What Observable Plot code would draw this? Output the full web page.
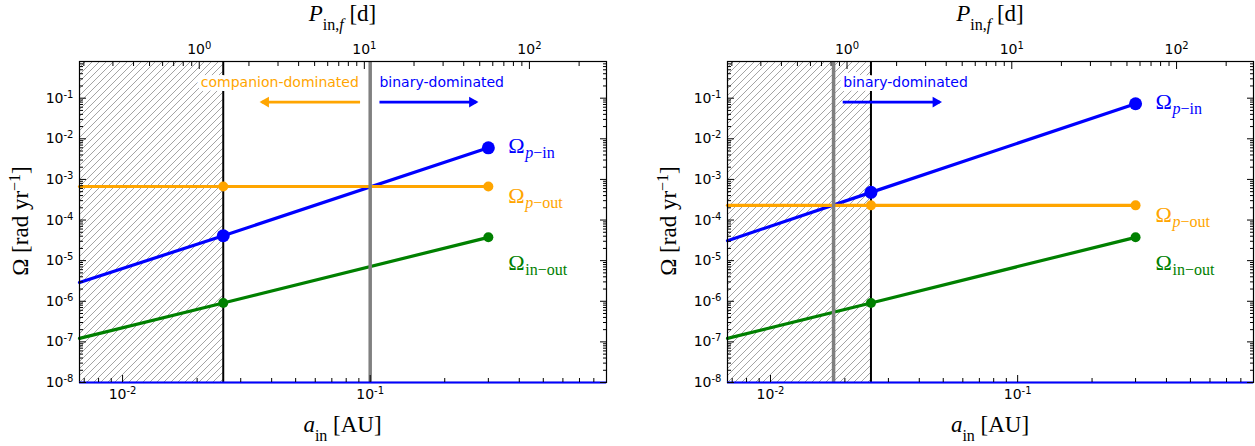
<!DOCTYPE html>
<html><head><meta charset="utf-8">
<script src="https://cdn.jsdelivr.net/npm/d3@7"></script>
<script src="https://cdn.jsdelivr.net/npm/@observablehq/plot@0.6"></script>
<style>
body{margin:0;background:#fff;}
#wrap{display:flex;width:1255px;height:446px;overflow:hidden;}
</style></head><body><div id="wrap"></div>
<script>
// ---------- data ----------
const aPoints   = [0.0067, 0.0255, 0.3];          // a_in [AU]
const leftPIn   = [2.9e-6, 4.1e-5, 6.0e-3];
const leftPOut  = [6.7e-4, 6.7e-4, 6.7e-4];
const leftInOut = [1.22e-7, 9.1e-7, 3.75e-5];
const rightPIn  = [3.1e-5, 4.8e-4, 7.3e-2];
const rightPOut = [2.3e-4, 2.3e-4, 2.3e-4];
const rightInOut= [1.22e-7, 9.1e-7, 3.75e-5];
const stabilityLimit = 0.0255;     // black line / hatched edge
const leftTransition = 0.1;        // grey line
const rightTransition = 0.018;
const xDomain = [0.0067, 0.9];
const yDomain = [1e-8, 0.8];
const xMajor = [0.01, 0.1];
const xMinor = [0.007,0.008,0.009,0.02,0.03,0.04,0.05,0.06,0.07,0.08,0.09,0.2,0.3,0.4,0.5,0.6,0.7,0.8,0.9];
const yMajor = [1e-8,1e-7,1e-6,1e-5,1e-4,1e-3,1e-2,1e-1];
const yMinorMult = [2,3,4,5,6,7,8,9];
const pMajor = [1, 10, 100];
const pMinor = [0.2,0.3,0.4,0.5,0.6,0.7,0.8,0.9,2,3,4,5,6,7,8,9,20,30,40,50,60,70,80,90,200];
const aAtOneDay = 0.0204;          // a_in [AU] for P_in,f = 1 d
const leftNotes  = [{text:"companion-dominated", a:0.09, y:0.25, anchor:"end", color:"#ffa500"},
                    {text:"binary-dominated", a:0.109, y:0.25, anchor:"start", color:"#0000ff"}];
const leftArrows = [{a1:0.091, a2:0.0365, y:0.08, color:"#ffa500", dir:-1},
                    {a1:0.109, a2:0.268, y:0.08, color:"#0000ff", dir:1}];
const rightNotes = [{text:"binary-dominated", a:0.0197, y:0.25, anchor:"start", color:"#0000ff"}];
const rightArrows= [{a1:0.0196, a2:0.0484, y:0.08, color:"#0000ff", dir:1}];

const yMinor = yMajor.flatMap(m => yMinorMult.map(k => k*m)).filter(v => v <= yDomain[1]);
const aOfP = p => aAtOneDay * Math.pow(p, 2/3);
const expFmt = v => "10^" + Math.round(Math.log10(v));
const serif = "Liberation Serif, DejaVu Serif, serif";

function seriesDefs(pIn, pOut, inOut) {
  return [
    {vals: pIn,  color:"#0000ff", r:6.5, sub1:"p", sub2:"−in",  dy:5},
    {vals: pOut, color:"#ffa500", r:5,   sub1:"p", sub2:"−out", dy:17},
    {vals: inOut,color:"#008000", r:5,   sub1:"",  sub2:"in−out", dy:33}
  ];
}

function panel({pIn, pOut, inOut, transition, width, marginLeft, marginRight, notes, arrows, id}) {
  const S = seriesDefs(pIn, pOut, inOut);
  const marks = [];
  marks.push(Plot.rect([0], {x1: () => xDomain[0], x2: () => stabilityLimit,
    y1: () => yDomain[0], y2: () => yDomain[1], fill: `url(#${id})`}));
  for (const s of S) {
    const rows = aPoints.map((a, i) => ({a, v: s.vals[i]}));
    marks.push(Plot.line(rows, {x:"a", y:"v", stroke:s.color, strokeWidth:3.2}));
  }
  marks.push(Plot.ruleX([stabilityLimit], {stroke:"black", strokeWidth:2}));
  marks.push(Plot.ruleX([transition], {stroke:"#808080", strokeWidth:3.5}));
  for (const s of S) {
    const rows = aPoints.slice(1).map((a, i) => ({a, v: s.vals[i+1]}));
    marks.push(Plot.dot(rows, {x:"a", y:"v", fill:s.color, r:s.r, stroke:null}));
    const end = [{a: aPoints[2], v: s.vals[2]}];
    marks.push(Plot.text(end, {x:"a", y:"v", text:() => "Ω", fill:s.color, fontSize:22,
      fontFamily:serif, textAnchor:"start", lineAnchor:"bottom", dx:20, dy:s.dy}));
    if (s.sub1) marks.push(Plot.text(end, {x:"a", y:"v", text:() => s.sub1, fill:s.color, fontSize:16,
      fontFamily:serif, fontStyle:"italic", textAnchor:"start", lineAnchor:"bottom", dx:37, dy:s.dy+5}));
    marks.push(Plot.text(end, {x:"a", y:"v", text:() => s.sub2, fill:s.color, fontSize:16,
      fontFamily:serif, textAnchor:"start", lineAnchor:"bottom", dx: s.sub1 ? 45 : 37, dy:s.dy+5}));
  }
  for (const n of notes) {
    marks.push(Plot.text([n], {x:"a", y:"y", text:"text", fill:n.color, textAnchor:n.anchor,
      fontSize:14, fontFamily:"DejaVu Sans", stroke:"white", strokeWidth:8, paintOrder:"stroke", strokeLinejoin:"round"}));
  }
  for (const ar of arrows) {
    marks.push(Plot.link([ar], {x1:"a1", x2:"a2", y1:"y", y2:"y", stroke:ar.color, strokeWidth:2.6}));
    marks.push(Plot.dot([ar], {x:"a2", y:"y", symbol:"triangle", r:4, fill:ar.color, stroke:null,
      rotate: ar.dir > 0 ? 90 : -90, dx: ar.dir > 0 ? -4 : 4}));
  }
  marks.push(Plot.frame({stroke:"black", strokeWidth:1.2}));
  marks.push(Plot.ruleY([yDomain[0]], {stroke:"#0000ff", strokeWidth:2}));
  const noLab = () => "";
  marks.push(
    Plot.axisY(yMajor, {anchor:"left", tickSize:-7, tickPadding:13, tickFormat:expFmt, label:null, fontSize:14}),
    Plot.axisY(yMinor, {anchor:"left", tickSize:-4, tickFormat:noLab, label:null}),
    Plot.axisY(yMajor, {anchor:"right", tickSize:-7, tickFormat:noLab, label:null}),
    Plot.axisY(yMinor, {anchor:"right", tickSize:-4, tickFormat:noLab, label:null}),
    Plot.axisX(xMajor, {anchor:"bottom", tickSize:-7, tickPadding:14, tickFormat:expFmt, label:null, fontSize:14}),
    Plot.axisX(xMinor, {anchor:"bottom", tickSize:-4, tickFormat:noLab, label:null}),
    Plot.axisX(pMajor.map(aOfP), {anchor:"top", tickSize:-7, tickFormat:noLab, label:null}),
    Plot.axisX(pMinor.map(aOfP).filter(a => a >= xDomain[0] && a <= xDomain[1]), {anchor:"top", tickSize:-4, tickFormat:noLab, label:null}),
    Plot.text(pMajor, {x: aOfP, text: expFmt, frameAnchor:"top", lineAnchor:"bottom", dy:-8,
      fontSize:14, fontFamily:"DejaVu Sans", fill:"black"})
  );
  const plot = Plot.plot({
    width, height:446, marginTop:61, marginBottom:64, marginLeft, marginRight,
    x: {type:"log", domain:xDomain},
    y: {type:"log", domain:yDomain},
    style: {fontFamily:"DejaVu Sans", fontSize:"14px", color:"black", background:"white", overflow:"visible"},
    marks
  });
  const svg = d3.select(plot);
  svg.selectAll("text").each(function () {
    const t = d3.select(this);
    const m = /^10\^(-?\d+)$/.exec(this.textContent);
    if (!m) return;
    t.text(null);
    t.append("tspan").text("10");
    t.append("tspan").attr("font-size", 10).attr("dy", "-0.5em").text(m[1]);
  });
  const pat = svg.insert("defs", ":first-child").append("pattern")
    .attr("id", id).attr("patternUnits", "userSpaceOnUse").attr("width", 7).attr("height", 7);
  pat.append("path").attr("d", "M0,7 L7,0 M-1,1 L1,-1 M6,8 L8,6")
    .attr("stroke", "#666").attr("stroke-width", 0.6).attr("fill", "none");
  const cx = marginLeft + (width - marginLeft - marginRight) / 2;
  const yt = svg.append("text").attr("transform", `translate(${marginLeft - 51},221) rotate(-90)`)
    .attr("text-anchor", "middle").attr("font-family", serif).attr("font-size", 23).attr("fill", "black");
  yt.append("tspan").text("Ω [rad yr");
  yt.append("tspan").attr("baseline-shift", "super").attr("font-size", 16).text("−1");
  yt.append("tspan").text("]");
  const xt = svg.append("text").attr("x", cx).attr("y", 432).attr("text-anchor", "middle")
    .attr("font-family", serif).attr("font-size", 23).attr("fill", "black");
  xt.append("tspan").attr("font-style", "italic").text("a");
  xt.append("tspan").attr("baseline-shift", "sub").attr("font-size", 16).text("in");
  xt.append("tspan").text(" [AU]");
  const tt = svg.append("text").attr("x", cx).attr("y", 21).attr("text-anchor", "middle")
    .attr("font-family", serif).attr("font-size", 23).attr("fill", "black");
  tt.append("tspan").attr("font-style", "italic").text("P");
  tt.append("tspan").attr("baseline-shift", "sub").attr("font-size", 16).text("in,");
  tt.append("tspan").attr("baseline-shift", "sub").attr("font-size", 16).attr("font-style", "italic").text("f");
  tt.append("tspan").text(" [d]");
  return plot;
}

const wrap = document.getElementById("wrap");
wrap.append(panel({pIn:leftPIn, pOut:leftPOut, inOut:leftInOut, transition:leftTransition,
  width:627, marginLeft:79, marginRight:21, notes:leftNotes, arrows:leftArrows, id:"hatchL"}));
wrap.append(panel({pIn:rightPIn, pOut:rightPOut, inOut:rightInOut, transition:rightTransition,
  width:628, marginLeft:100, marginRight:2, notes:rightNotes, arrows:rightArrows, id:"hatchR"}));
</script></body></html>
